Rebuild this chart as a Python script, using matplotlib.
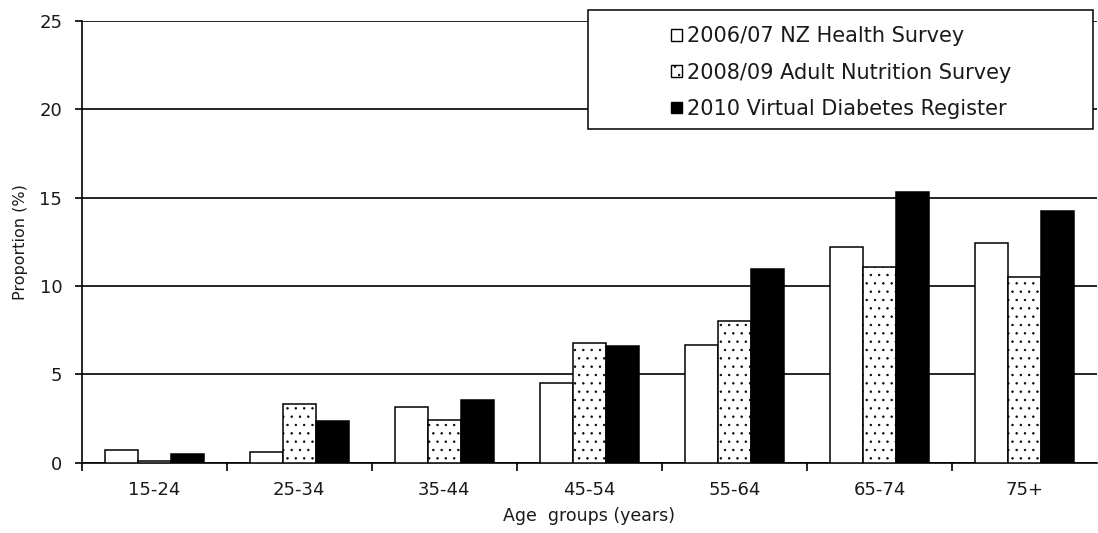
import numpy as np
import matplotlib
matplotlib.use("Agg")
import matplotlib.pyplot as plt
from matplotlib.patches import Patch, Rectangle

# age groups and the three data sources (proportion, %)
age_groups = ["15-24", "25-34", "35-44", "45-54", "55-64", "65-74", "75+"]
nz_health_survey = [0.7, 0.6, 3.15, 4.5, 6.65, 12.2, 12.45]
adult_nutrition_survey = [0.12, 3.33, 2.42, 6.75, 8.0, 11.1, 10.5]
diabetes_register = [0.5, 2.34, 3.55, 6.6, 10.95, 15.3, 14.25]

series_labels = ["2006/07 NZ Health Survey",
                 "2008/09 Adult Nutrition Survey",
                 "2010 Virtual Diabetes Register"]
y_ticks = [0, 5, 10, 15, 20, 25]

plt.rcParams['font.family'] = ['DejaVu Sans']
plt.rcParams['hatch.linewidth'] = 0.5
text_color = "#1a1a1a"

fig = plt.figure(figsize=(10.98, 5.33), dpi=100)
ax = fig.add_axes([0.0744, 0.1319, 0.9247, 0.8287])

x = np.arange(len(age_groups))
w = 0.228
edge = dict(edgecolor="black", linewidth=1.1, zorder=3)
ax.bar(x - w, nz_health_survey, w, facecolor="white", **edge)
ax.bar(x, adult_nutrition_survey, w, facecolor="white", hatch="..", **edge)
ax.bar(x + w, diabetes_register, w, facecolor="black", **edge)

ax.set_xlim(-0.5, len(age_groups) - 0.5)
ax.set_ylim(0, 25)
ax.set_yticks(y_ticks)
ax.yaxis.grid(True, color="black", linewidth=1.2, zorder=0)
ax.set_axisbelow(True)

# category labels at the centres, tick marks at the boundaries
ax.set_xticks(x)
ax.set_xticklabels(age_groups, fontsize=13, color=text_color)
ax.set_xticks(np.arange(-0.5, len(age_groups) - 1), minor=True)
ax.tick_params(axis="x", which="major", length=0, pad=13)
ax.tick_params(axis="x", which="minor", length=6, width=1.2)
ax.tick_params(axis="y", length=5, width=1.2, labelsize=13, pad=9,
               labelcolor=text_color)

for s in ["top", "right"]:
    ax.spines[s].set_visible(False)
for s in ["left", "bottom"]:
    ax.spines[s].set_linewidth(1.2)

ax.set_xlabel("Age  groups (years)", fontsize=12.5, labelpad=6, color=text_color)
ax.set_ylabel("Proportion (%)", fontsize=11.5, labelpad=8, color=text_color)

# legend: frame drawn as a figure rectangle, entries placed inside
fig.patches.append(Rectangle((588 / 1098, 1 - 129 / 533), 505 / 1098, 119 / 533,
                             transform=fig.transFigure, facecolor="white",
                             edgecolor="black", linewidth=1.1, zorder=5))
handles = [Patch(facecolor="white", edgecolor="black", linewidth=1.0),
           Patch(facecolor="white", edgecolor="black", linewidth=1.0, hatch=".."),
           Patch(facecolor="black", edgecolor="black", linewidth=1.0)]
leg = fig.legend(handles, series_labels, loc="upper left",
                 bbox_to_anchor=(661 / 1098, 1 - 16 / 533), frameon=False,
                 fontsize=15, handlelength=0.5, handleheight=0.5,
                 handletextpad=0.25, labelspacing=0.78, borderpad=0,
                 labelcolor=text_color)
leg.set_zorder(6)

fig.savefig("out.png", dpi=100)
